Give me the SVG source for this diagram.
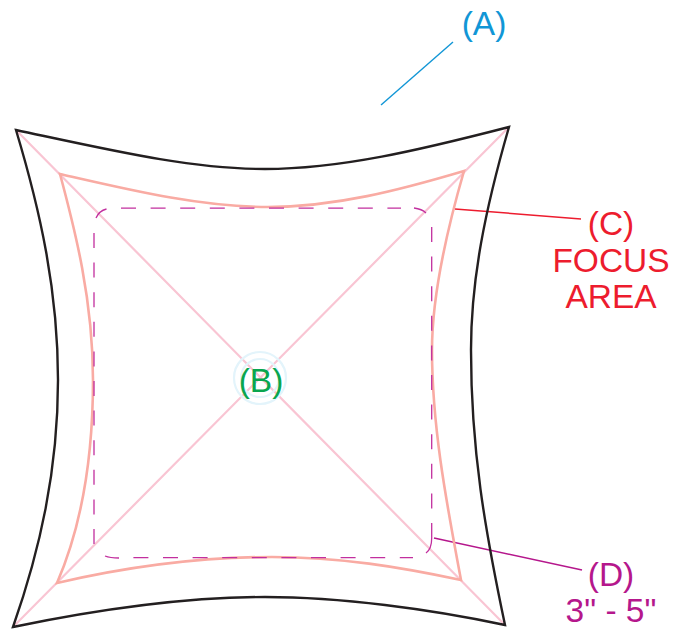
<svg xmlns="http://www.w3.org/2000/svg" width="684" height="629" viewBox="0 0 684 629">
<style>
text{font-family:"Liberation Sans",Arial,sans-serif;font-size:33.5px;text-anchor:middle}
.fr{fill:none}
.diag{stroke:#f9c5d3;stroke-width:2.2}
.dash{fill:none;stroke:#c22f9e;stroke-width:1.3}
.dl{stroke-dasharray:15 14.6}
.ring{fill:none;stroke:#e3f4fb;stroke-width:2.2}
</style>
<rect width="684" height="629" fill="#fff"/>
<g id="connectors" fill="none">
<path class="diag" d="M16 130L505 625M509 127L13 627"/>
<path d="M381 105L453 42" stroke="#1196d6" stroke-width="1.4"/>
<path d="M455 209L581 219" stroke="#ed1c2e" stroke-width="1.5"/>
<path d="M434 538L582 570" stroke="#b5178c" stroke-width="1.5"/>
</g>
<g id="sail-outer"><path class="fr" stroke="#231f20" stroke-width="2.4" stroke-linejoin="miter" d="M16 130C110 150 190 169 265 169C340 169 420 150 509 127C485 210 471 280 471 350C471 450 485 530 505 625C430 609 340 597 265 597C190 597 100 609 13 627C40 550 58 470 58 380C58 290 40 210 16 130Z"/></g>
<g id="focus-area"><path class="fr" stroke="#f9aba3" stroke-width="2.6" d="M60 174C130 190 200 207 268 207C335 207 400 190 464 171C444 240 432 300 432 350C432 430 448 510 461 580C400 567 340 557 272 557C200 557 130 566 57 583C80 530 93 460 93 380C93 300 75 230 60 174Z"/>
<text x="611" y="235" fill="#ed1c2e">(C)</text>
<text x="611" y="272" fill="#ed1c2e">FOCUS</text>
<text x="611" y="308" fill="#ed1c2e">AREA</text></g>
<g id="dashed-zone">
<path class="dash dl" d="M121 208.200H401"/>
<path class="dash dl" d="M94 233V548"/>
<path class="dash dl" d="M133.400 557.700H413"/>
<path class="dash dl" d="M431.700 227V538"/>
<path class="dash" d="M106.500 209Q99 211 96 218M414 208Q422 209 426 213M105 556Q110 558 119 558M431.700 538Q431.700 549 426 553"/>
<text x="611" y="586" fill="#b5178c">(D)</text>
<text x="611" y="622" fill="#b5178c">3" - 5"</text></g>
<g id="center"><circle class="ring" cx="260" cy="378" r="26"/><circle class="ring" cx="260" cy="378" r="19"/>
<text x="261" y="392" fill="#0aa64f">(B)</text></g>
<g id="label-a"><text x="484" y="35" fill="#1196d6">(A)</text></g>
</svg>
